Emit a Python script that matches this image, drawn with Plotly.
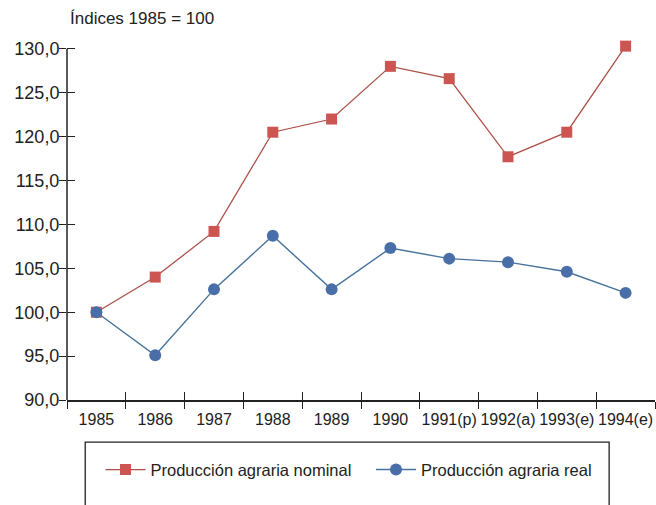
import plotly.graph_objects as go

years = ["1985", "1986", "1987", "1988", "1989", "1990", "1991(p)", "1992(a)", "1993(e)", "1994(e)"]
nominal = [100.0, 104.0, 109.2, 120.5, 122.0, 128.0, 126.6, 117.7, 120.5, 130.3]
real = [100.0, 95.1, 102.6, 108.7, 102.6, 107.3, 106.1, 105.7, 104.6, 102.2]
y_ticks = [90, 95, 100, 105, 110, 115, 120, 125, 130]
y_ticktext = ["90,0", "95,0", "100,0", "105,0", "110,0", "115,0", "120,0", "125,0", "130,0"]

font_family = "Liberation Sans, Arial, sans-serif"
ink = "#222"

fig = go.Figure()
fig.add_trace(go.Scatter(
    x=years, y=nominal, name="Producción agraria nominal",
    mode="lines+markers",
    line=dict(color="#ad4f47", width=1.3),
    marker=dict(symbol="square", size=11, color="#cc5552"),
    cliponaxis=False, legend="legend",
))
fig.add_trace(go.Scatter(
    x=years, y=real, name="Producción agraria real",
    mode="lines+markers",
    line=dict(color="#46729c", width=1.4),
    marker=dict(symbol="circle", size=12, color="#4a6fa8"),
    cliponaxis=False, legend="legend2",
))
# invisible helper trace on overlay axes to draw inner halves of tick marks
fig.add_trace(go.Scatter(
    x=years, y=real, xaxis="x2", yaxis="y2", mode="markers",
    marker=dict(opacity=0), showlegend=False, hoverinfo="skip",
))

legend_common = dict(
    orientation="h", y=-0.194, xanchor="left", yanchor="middle",
    bgcolor="rgba(0,0,0,0)", font=dict(size=16.5, color=ink),
    itemwidth=40,
)

fig.update_layout(
    width=656, height=505,
    margin=dict(l=67, r=1, t=40, b=105),
    paper_bgcolor="white", plot_bgcolor="white",
    font=dict(family=font_family, size=16, color=ink),
    showlegend=True,
    legend=dict(x=0.057, **legend_common),
    legend2=dict(x=0.517, **legend_common),
    xaxis=dict(
        type="category", range=[-0.5, 9.5], automargin=False,
        showline=True, linecolor=ink, linewidth=1.5,
        ticks="outside", ticklen=7, tickcolor=ink, tickwidth=1,
        tickson="boundaries", showgrid=False, zeroline=False,
        tickangle=0, tickfont=dict(size=16), ticklabelstandoff=4,
    ),
    yaxis=dict(
        range=[90, 131], tickvals=y_ticks, ticktext=y_ticktext, automargin=False,
        showline=False,
        ticks="outside", ticklen=7, tickcolor=ink, tickwidth=1,
        showgrid=False, zeroline=False, tickfont=dict(size=18),
        ticklabelstandoff=-4,
    ),
    xaxis2=dict(
        type="category", range=[-0.5, 9.5], overlaying="x", automargin=False,
        showline=False, ticks="inside", ticklen=8, tickcolor=ink, tickwidth=1,
        tickson="boundaries", showticklabels=False, showgrid=False, zeroline=False,
    ),
    yaxis2=dict(
        range=[90, 131], tickvals=y_ticks, overlaying="y", automargin=False,
        showline=False, ticks="inside", ticklen=8, tickcolor=ink, tickwidth=1,
        showticklabels=False, showgrid=False, zeroline=False,
    ),
    shapes=[
        dict(type="line", xref="paper", yref="y", x0=0, x1=0, y0=90, y1=130,
             line=dict(color=ink, width=1.5)),
        dict(type="rect", xref="paper", yref="paper",
             x0=0.031, x1=0.922, y0=-0.33, y1=-0.117,
             line=dict(color=ink, width=1.3), fillcolor="rgba(0,0,0,0)"),
    ],
    annotations=[dict(
        text="Índices 1985 = 100", xref="paper", yref="paper",
        x=0.0, y=1.0, xanchor="left", yanchor="middle", xshift=1, yshift=22,
        showarrow=False, font=dict(size=17, color=ink),
    )],
)

fig.write_html("out.html", config={"displayModeBar": False},
               post_script="document.body.style.margin='0px';")
